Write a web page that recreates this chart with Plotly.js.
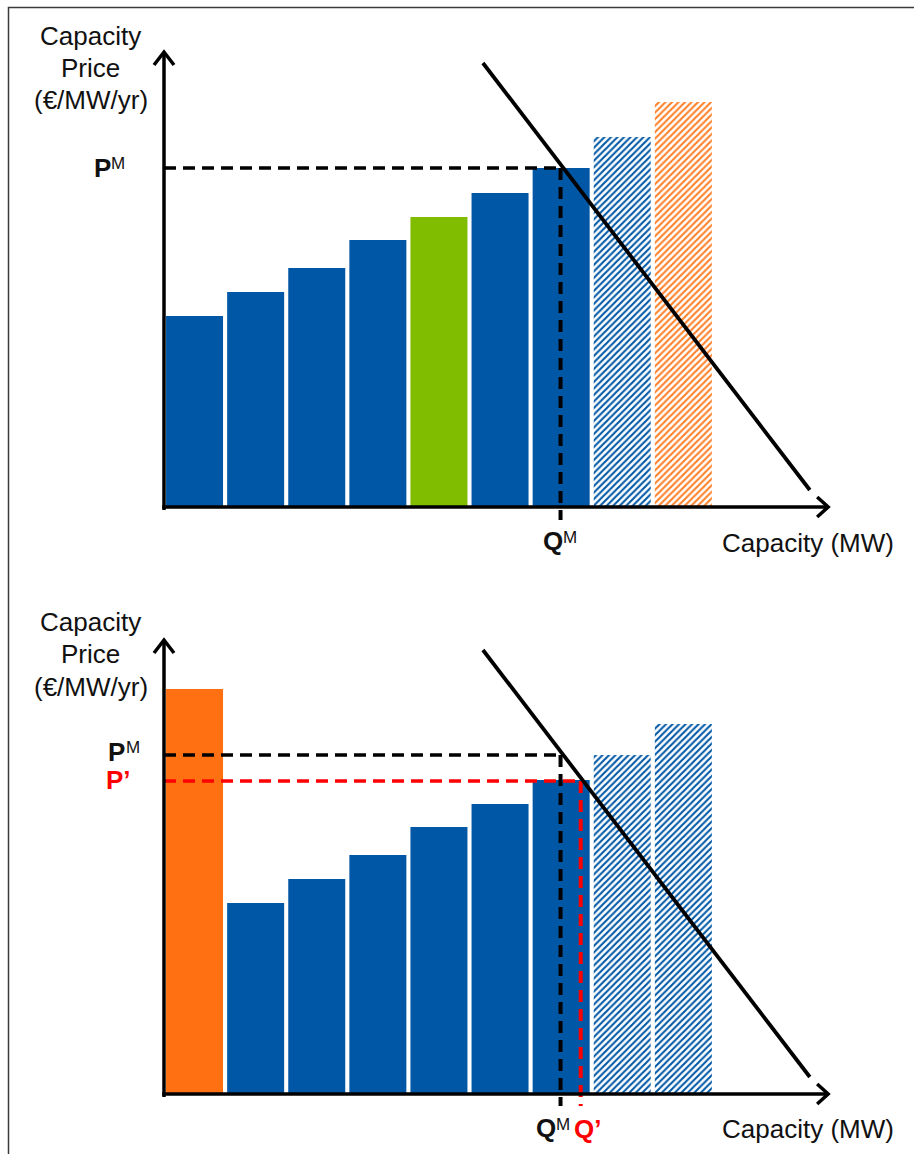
<!DOCTYPE html>
<html><head><meta charset="utf-8">
<script src="https://cdn.plot.ly/plotly-3.0.1.min.js"></script>
<style>html,body{margin:0;padding:0;background:#fff}#chart{width:914px;height:1154px}</style>
</head><body><div id="chart"></div>
<script>
// ---- data (capacity blocks in units, price in arbitrary €/MW/yr units) ----
const blocks = [0.5, 1.5, 2.5, 3.5, 4.5, 5.5, 6.5, 7.5, 8.5];
const bidsBefore = [191, 215, 239, 267, 290, 314, 339, 370, 405];
const kindsBefore = ['existing','existing','existing','existing','new','existing','existing','unselected','unselectedNew'];
const bidsAfter = [405, 191, 215, 239, 267, 290, 314, 339, 370];
const kindsAfter = ['priority','existing','existing','existing','existing','existing','existing','unselected','unselected'];
const demandQ = [5.22, 10.57];
const demandP = [444, 17];
const priceM = 339, qtyM = 6.49;
const pricePrime = 313, qtyPrime = 6.82;
const xAxisEnd = 10.87, yAxisEndTop = 455, yAxisEndBottom = 454;
const yTitleLines = ['Capacity', 'Price', '(€/MW/yr)'];
const xTitle = 'Capacity (MW)';

// ---- styles ----
const BLUE = '#0057A6', GREEN = '#80BC00', ORANGE = '#FF7012', HORANGE = '#FF7F27';
const kindColor = {existing: BLUE, new: GREEN, unselected: BLUE, unselectedNew: HORANGE, priority: ORANGE};
const hatched = {unselected: true, unselectedNew: true};
const FONT = 'Liberation Sans, Arial, sans-serif';

function barTraces(vals, kinds, xa, ya) {
  const out = [];
  const solidIdx = kinds.map((k, i) => i).filter(i => !hatched[kinds[i]]);
  out.push({
    type: 'bar', x: solidIdx.map(i => blocks[i]), y: solidIdx.map(i => vals[i]), xaxis: xa, yaxis: ya,
    marker: {color: solidIdx.map(i => kindColor[kinds[i]]), line: {width: 0}},
    hoverinfo: 'skip', showlegend: false
  });
  ['unselected', 'unselectedNew'].forEach(kind => {
    const idx = kinds.map((k, i) => i).filter(i => kinds[i] === kind);
    if (!idx.length) return;
    out.push({
      type: 'bar', x: idx.map(i => blocks[i]), y: idx.map(i => vals[i]), xaxis: xa, yaxis: ya,
      marker: {color: '#ffffff', line: {width: 0},
        pattern: {shape: '/', fgcolor: kindColor[kind], bgcolor: '#ffffff', size: 4.6, solidity: 0.45}},
      hoverinfo: 'skip', showlegend: false
    });
  });
  return out;
}
function lineTrace(x, y, color, dash, width, xa, ya) {
  return {type: 'scatter', mode: 'lines', x: x, y: y, xaxis: xa, yaxis: ya,
    line: {color: color, dash: dash, width: width}, hoverinfo: 'skip', showlegend: false};
}
const DASH = '12px,7px';
const traces = [].concat(
  barTraces(bidsBefore, kindsBefore, 'x', 'y'),
  [
    lineTrace([0, qtyM], [priceM, priceM], '#000', DASH, 3.5, 'x', 'y'),
    lineTrace([qtyM, qtyM], [priceM, -13], '#000', DASH, 4, 'x', 'y'),
    lineTrace(demandQ, demandP, '#000', 'solid', 3.8, 'x', 'y')
  ],
  barTraces(bidsAfter, kindsAfter, 'x2', 'y2'),
  [
    lineTrace([0, qtyM], [priceM, priceM], '#000', DASH, 3.5, 'x2', 'y2'),
    lineTrace([qtyM, qtyM], [priceM, -12], '#000', DASH, 4, 'x2', 'y2'),
    lineTrace([0, qtyPrime], [pricePrime, pricePrime], '#FF0000', DASH, 3.5, 'x2', 'y2'),
    lineTrace([qtyPrime, qtyPrime], [pricePrime, -12], '#FF0000', DASH, 4, 'x2', 'y2'),
    lineTrace(demandQ, demandP, '#000', 'solid', 3.8, 'x2', 'y2')
  ]
);

const W = 914, H = 1154;
const px = v => v / W, py = v => 1 - v / H;
const FS = 26;
function txt(text, x, y, opts) {
  return Object.assign({text: text, x: x, y: y, xref: 'paper', yref: 'paper', showarrow: false,
    xanchor: 'center', yanchor: 'middle', font: {family: FONT, size: FS, color: '#111'}}, opts || {});
}
const RED = {family: FONT, size: FS, color: '#FF0000'};
const SUP = {family: FONT, size: 17, color: '#111'};
// letter + superscript drawn as two texts
function supLabel(main, sup, xMain, xSup, y, yref, yshiftMain, yshiftSup) {
  return [
    txt('<b>' + main + '</b>', px(xMain), y, {yref: yref, yshift: yshiftMain}),
    txt(sup, px(xSup), y, {yref: yref, yshift: yshiftSup, font: SUP})
  ];
}
const ann = [].concat(
  // top texts
  [txt(yTitleLines[0], px(90), py(36)),
   txt(yTitleLines[1], px(90), py(68)),
   txt(yTitleLines[2], px(91), py(100))],
  supLabel('P', 'M', 102, 118, priceM, 'y', 0, 5),
  supLabel('Q', 'M', 552.5, 570, py(541.5), 'paper', 0, 4),
  [txt(xTitle, px(808), py(543))],
  // bottom texts
  [txt(yTitleLines[0], px(90), py(622)),
   txt(yTitleLines[1], px(90), py(654)),
   txt(yTitleLines[2], px(91), py(687))],
  supLabel('P', 'M', 116, 132.5, priceM, 'y2', 3, 8),
  [txt('<b>P’</b>', px(118), pricePrime, {yref: 'y2', yshift: 1, font: RED})],
  supLabel('Q', 'M', 545.5, 562.5, py(1128), 'paper', 0, 4),
  [txt('<b>Q’</b>', px(587.5), py(1128.5), {font: RED}),
   txt(xTitle, px(808), py(1129))]
);

// axes with open chevron arrowheads (decoration, drawn as shapes)
const AX = {color: '#000', width: 3.5};
function axisShapes(xa, ya, yTop) {
  return [
    {type: 'line', xref: xa, yref: ya, x0: -0.03, y0: 0, x1: xAxisEnd, y1: 0, line: AX, layer: 'above'},
    {type: 'line', xref: xa, yref: ya, x0: 0, y0: -3, x1: 0, y1: yTop, line: AX, layer: 'above'},
    {type: 'path', xref: xa, yref: ya, xsizemode: 'pixel', ysizemode: 'pixel', xanchor: xAxisEnd, yanchor: 0,
      path: 'M-11,10L0,0L-11,-10', line: AX, fillcolor: 'rgba(0,0,0,0)', layer: 'above'},
    {type: 'path', xref: xa, yref: ya, xsizemode: 'pixel', ysizemode: 'pixel', xanchor: 0, yanchor: yTop,
      path: 'M-10,-13L0,0L10,-13', line: AX, fillcolor: 'rgba(0,0,0,0)', layer: 'above'}
  ];
}

const xr = [-164 / 61.1, (W - 164) / 61.1];
const layout = {
  width: W, height: H, margin: {l: 0, r: 0, t: 0, b: 0, pad: 0},
  paper_bgcolor: '#fff', plot_bgcolor: 'rgba(0,0,0,0)', showlegend: false,
  barmode: 'overlay', bargap: 0.067,
  xaxis: {domain: [0, 1], range: xr, visible: false, fixedrange: true, anchor: 'y'},
  yaxis: {domain: [0.5, 1], range: [-70, 507], visible: false, fixedrange: true, anchor: 'x'},
  xaxis2: {domain: [0, 1], range: xr, visible: false, fixedrange: true, anchor: 'y2'},
  yaxis2: {domain: [0, 0.5], range: [-60, 517], visible: false, fixedrange: true, anchor: 'x2'},
  annotations: ann,
  shapes: [].concat(
    axisShapes('x', 'y', yAxisEndTop),
    axisShapes('x2', 'y2', yAxisEndBottom),
    [{type: 'rect', xref: 'paper', yref: 'paper', x0: px(8.5), x1: 1.05, y0: -0.05, y1: py(7.5),
      line: {color: '#3a3a3a', width: 1.5}, fillcolor: 'rgba(0,0,0,0)', layer: 'above'}]
  )
};
Plotly.newPlot('chart', traces, layout, {staticPlot: true, displayModeBar: false});
</script></body></html>
